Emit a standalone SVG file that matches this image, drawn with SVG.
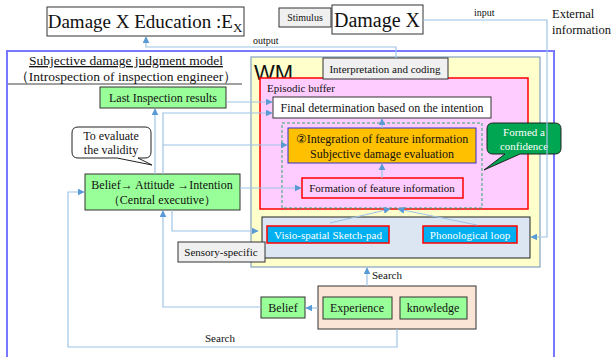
<svg xmlns="http://www.w3.org/2000/svg" width="616" height="357" viewBox="0 0 616 357">
<defs>
<marker id="ah" viewBox="0 0 10 10" refX="9" refY="5" markerWidth="7" markerHeight="7" orient="auto" markerUnits="userSpaceOnUse">
<path d="M0,0 L10,5 L0,10 Z" fill="#5b9bd5"/>
</marker>
<style>
text{font-family:"Liberation Serif","DejaVu Serif",serif;fill:#111;}
text.sans{font-family:"Liberation Sans","DejaVu Sans",sans-serif;}
.c{text-anchor:middle;}
.s11{font-size:11px;}
.s12{font-size:12px;}
.s13{font-size:13.5px;}
.w{fill:#fff;}
.box{stroke:#333;stroke-width:1;}
.green{fill:#99ff99;stroke:#333;stroke-width:1;}
.gray{fill:#f0f0f0;stroke:#333;stroke-width:1;}
.blue{fill:#00b0f0;stroke:#ff0000;stroke-width:1.5;}
.conn line,.conn polyline{fill:none;stroke:#9dc3e6;stroke-width:1.2;}
.arr{marker-end:url(#ah);}
</style>
</defs>

<g id="model-frame">
<rect x="7" y="51" width="547" height="330" fill="none" stroke="#7777ff" stroke-width="2"/>
<text x="126" y="65" class="c s13" text-decoration="underline">Subjective damage judgment model</text>
<text x="126" y="81" class="c s13">（Introspection of inspection engineer）</text>
<line x1="8" y1="84" x2="242" y2="84" stroke="#111" stroke-width="0.8"/>
</g>

<g id="damage-x-education">
<rect x="47" y="7" width="197" height="29" fill="#fff" class="box"/>
<text x="145" y="28" class="c" font-size="19">Damage X Education :E<tspan font-size="13" dy="4">X</tspan></text>
</g>

<g id="stimulus">
<rect x="279" y="8" width="52" height="19" class="gray"/>
<text x="305" y="21" class="c" font-size="10">Stimulus</text>
</g>

<g id="damage-x">
<rect x="332" y="5" width="91" height="29" fill="#fff" class="box"/>
<text x="377" y="27" class="c" font-size="20">Damage X</text>
</g>

<g id="external-info">
<text x="552" y="18" font-size="12.5">External</text>
<text x="552" y="34" font-size="12.5">information</text>
</g>

<g id="wm">
<rect x="251" y="57" width="289" height="210" fill="#ffffcc" stroke="#6d8fb5" stroke-width="1"/>
<text x="254" y="80" class="sans" font-size="22">WM</text>
</g>

<g id="episodic-buffer">
<rect x="260" y="78" width="268" height="131" fill="#ffccff" stroke="#ff0000" stroke-width="1.5"/>
<text x="267" y="92" class="s11">Episodic buffer</text>
</g>

<g id="interpretation">
<rect x="323" y="58" width="125" height="21" class="gray"/>
<text x="385" y="73" class="c s11">Interpretation and coding</text>
</g>

<g id="final-determination">
<rect x="273" y="97" width="218" height="21" fill="#fff" class="box"/>
<text x="382" y="112" class="c s12">Final determination based on the intention</text>
</g>

<g id="dashed-group">
<rect x="282" y="123" width="200" height="85" fill="none" stroke="#2ea76a" stroke-width="1" stroke-dasharray="3,2"/>
</g>

<g id="integration">
<rect x="288" y="128" width="188" height="35" fill="#ffc000" stroke="#3333cc" stroke-width="1"/>
<text x="382" y="143" class="c s12">②Integration of feature information</text>
<text x="382" y="158" class="c s12">Subjective damage evaluation</text>
</g>

<g id="formation">
<rect x="302" y="178" width="161" height="20" fill="#ffccff" stroke="#ff0000" stroke-width="1.5"/>
<text x="382" y="192" class="c s11">Formation of feature information</text>
</g>

<g id="formed-confidence">
<path d="M493,123 H555 Q561,123 561,129 V148 Q561,154 555,154 H520 L484,170 L505,154 H493 Q487,154 487,148 V129 Q487,123 493,123 Z" fill="#00a651" stroke="#222" stroke-width="1"/>
<text x="524" y="136" class="c s11 w">Formed a</text>
<text x="524" y="150" class="c s11 w">confidence</text>
</g>

<g id="sensory-box">
<rect x="262" y="217" width="268" height="41" fill="#dce6f2" stroke="#222" stroke-width="1"/>
</g>

<g id="visio-spatial">
<rect x="267" y="226" width="122" height="17" class="blue"/>
<text x="328" y="239" class="c s11 w">Visio-spatial Sketch-pad</text>
</g>

<g id="phonological">
<rect x="423" y="226" width="94" height="17" class="blue"/>
<text x="470" y="239" class="c s11 w">Phonological loop</text>
</g>

<g id="sensory-specific">
<rect x="178" y="242" width="87" height="20" class="gray"/>
<text x="221" y="256" class="c s11">Sensory-specific</text>
</g>

<g id="last-inspection">
<rect x="100" y="87" width="126" height="21" class="green"/>
<text x="163" y="102" class="c s12">Last  Inspection results</text>
</g>

<g id="validity-callout">
<path d="M78,127 H145 Q151,127 151,133 V152 Q151,158 145,158 H138 L152,165 L117,158 H78 Q72,158 72,152 V133 Q72,127 78,127 Z" fill="#fff" stroke="#222" stroke-width="1"/>
<text x="111" y="140" class="c s12">To evaluate</text>
<text x="111" y="154" class="c s12">the validity</text>
</g>

<g id="central-executive">
<rect x="85" y="174" width="155" height="36" class="green"/>
<text x="162" y="189" class="c s12">Belief→ Attitude →Intention</text>
<text x="162" y="204" class="c s12">（Central executive）</text>
</g>

<g id="belief">
<rect x="261" y="297" width="44" height="21" class="green"/>
<text x="283" y="312" class="c s12">Belief</text>
</g>

<g id="memory">
<rect x="318" y="286" width="158" height="43" fill="#fbe5d6" stroke="#333" stroke-width="1"/>
</g>

<g id="experience">
<rect x="323" y="297" width="69" height="22" class="green"/>
<text x="357" y="312" class="c s12">Experience</text>
</g>

<g id="knowledge">
<rect x="400" y="297" width="67" height="22" class="green"/>
<text x="433" y="312" class="c s12">knowledge</text>
</g>

<g id="connectors" class="conn">
<polyline class="arr" points="423,20 547,20 547,237 531,237"/>
<text x="474" y="16" font-size="10">input</text>
<polyline class="arr" points="396,58 396,47 146,47 146,37"/>
<text x="253" y="44" font-size="10">output</text>
<line class="arr" x1="226" y1="102" x2="272" y2="102"/>
<line class="arr" x1="155" y1="174" x2="155" y2="109"/>
<polyline class="arr" points="163,174 163,113 272,113"/>
<polyline class="arr" points="163,145 287,145"/>
<line class="arr" x1="240" y1="188" x2="301" y2="188"/>
<line class="arr" x1="382" y1="178" x2="382" y2="164"/>
<line class="arr" x1="382" y1="128" x2="382" y2="119"/>
<polyline class="arr" points="172,210 172,231 258,231"/>
<line class="arr" x1="330" y1="223" x2="390" y2="209"/>
<line class="arr" x1="477" y1="225" x2="398" y2="209"/>
<line class="arr" x1="367" y1="286" x2="367" y2="268"/>
<text x="372" y="279" class="s11">Search</text>
<line class="arr" x1="318" y1="308" x2="306" y2="308"/>
<polyline class="arr" points="261,307 163,307 163,211"/>
<polyline class="arr" points="397,329 397,347 68,347 68,192 84,192"/>
<text x="205" y="342" class="s11">Search</text>
</g>
</svg>
